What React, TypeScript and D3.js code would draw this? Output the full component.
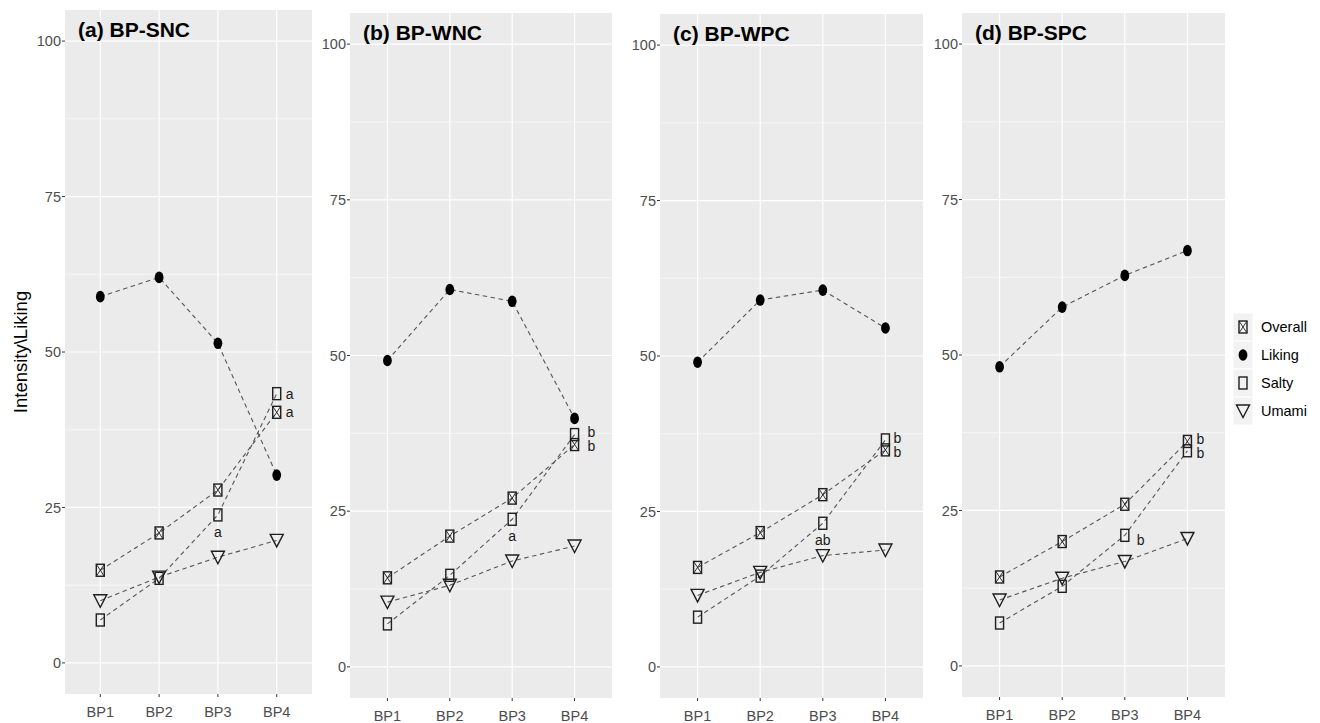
import * as d3 from 'd3';
import React from 'react';

// categories and series, one row per panel
const bpLevels = ['BP1', 'BP2', 'BP3', 'BP4'];
const panelTitles = ['(a) BP-SNC', '(b) BP-WNC', '(c) BP-WPC', '(d) BP-SPC'];
const seriesNames = ['Overall', 'Liking', 'Salty', 'Umami'];
const yTicks = [0, 25, 50, 75, 100];
const yMinor = [12.5, 37.5, 62.5, 87.5];

const overallVals = [
  [14.9, 20.9, 27.8, 40.3],
  [14.3, 21.0, 27.1, 35.7],
  [16.0, 21.6, 27.7, 34.9],
  [14.3, 20.0, 26.0, 36.1],
];
const likingVals = [
  [58.9, 62.0, 51.4, 30.2],
  [49.2, 60.6, 58.7, 39.9],
  [49.0, 59.0, 60.6, 54.5],
  [48.1, 57.7, 62.8, 66.8],
];
const saltyVals = [
  [6.9, 13.6, 23.8, 43.3],
  [6.9, 14.7, 23.7, 37.3],
  [8.0, 14.6, 23.1, 36.5],
  [6.9, 12.8, 21.0, 34.6],
];
const umamiVals = [
  [10.0, 13.8, 17.0, 19.7],
  [10.4, 13.1, 17.0, 19.4],
  [11.5, 15.2, 17.9, 18.8],
  [10.6, 14.1, 16.8, 20.5],
];

// significance letters: which point they belong to and where they sit
const letterRows = [
  [
    { series: 'Salty', bp: 'BP4', text: 'a', pos: 'right' },
    { series: 'Overall', bp: 'BP4', text: 'a', pos: 'right' },
    { series: 'Salty', bp: 'BP3', text: 'a', pos: 'below' },
  ],
  [
    { series: 'Salty', bp: 'BP4', text: 'b', pos: 'rightUp' },
    { series: 'Overall', bp: 'BP4', text: 'b', pos: 'rightDown' },
    { series: 'Salty', bp: 'BP3', text: 'a', pos: 'below' },
  ],
  [
    { series: 'Salty', bp: 'BP4', text: 'b', pos: 'rightUp' },
    { series: 'Overall', bp: 'BP4', text: 'b', pos: 'rightDown' },
    { series: 'Salty', bp: 'BP3', text: 'ab', pos: 'below' },
  ],
  [
    { series: 'Overall', bp: 'BP4', text: 'b', pos: 'rightUp' },
    { series: 'Salty', bp: 'BP4', text: 'b', pos: 'rightDown' },
    { series: 'Salty', bp: 'BP3', text: 'b', pos: 'rightLow' },
  ],
];

// panel boxes in page pixels
const panelBoxes = [
  { left: 65, right: 312, top: 10, bottom: 694, gap: 9 },
  { left: 350, right: 612, top: 13, bottom: 698, gap: 13 },
  { left: 660, right: 923, top: 14, bottom: 698, gap: 8 },
  { left: 962, right: 1225, top: 13, bottom: 697, gap: 9 },
];

const FONT = 'Liberation Sans, Arial, sans-serif';
const MARK = '#1f1f1f';
const LINE = '#555555';

function Marker({ kind, x, y }) {
  if (kind === 'Overall') {
    return (
      <g stroke={MARK} strokeWidth={1.4} fill="none">
        <rect x={x - 4} y={y - 6} width={8} height={12} />
        <path d={`M${x - 4},${y - 6}L${x + 4},${y + 6}M${x + 4},${y - 6}L${x - 4},${y + 6}`} strokeWidth={0.9} />
      </g>
    );
  }
  if (kind === 'Liking') {
    return <ellipse cx={x} cy={y} rx={4.4} ry={5.8} fill="#000" />;
  }
  if (kind === 'Salty') {
    return <rect x={x - 4} y={y - 6} width={8} height={12} stroke={MARK} strokeWidth={1.4} fill="none" />;
  }
  return (
    <path
      d={`M${x - 6.5},${y - 6}L${x + 6.5},${y - 6}L${x},${y + 6.5}Z`}
      stroke={MARK}
      strokeWidth={1.4}
      fill="none"
    />
  );
}

const letterShift = { right: [0, 0], rightUp: [0, -2], rightDown: [0, 2], rightLow: [3, 5] };

function Panel({ index }) {
  const box = panelBoxes[index];
  const x = d3.scalePoint().domain(bpLevels).range([box.left, box.right]).padding(0.6);
  const y = d3.scaleLinear().domain([-5, 105]).range([box.bottom, box.top]);
  const valuesBySeries = {
    Overall: overallVals[index],
    Liking: likingVals[index],
    Salty: saltyVals[index],
    Umami: umamiVals[index],
  };
  const line = d3
    .line()
    .x((d) => x(d[0]))
    .y((d) => y(d[1]));

  return (
    <g>
      <rect x={box.left} y={box.top} width={box.right - box.left} height={box.bottom - box.top} fill="#EBEBEB" />
      {yMinor.map((t) => (
        <line key={'m' + t} x1={box.left} x2={box.right} y1={y(t)} y2={y(t)} stroke="#fff" strokeWidth={0.6} />
      ))}
      {yTicks.map((t) => (
        <line key={'g' + t} x1={box.left} x2={box.right} y1={y(t)} y2={y(t)} stroke="#fff" strokeWidth={1.2} />
      ))}
      {bpLevels.map((b) => (
        <line key={'v' + b} x1={x(b)} x2={x(b)} y1={box.top} y2={box.bottom} stroke="#fff" strokeWidth={1.2} />
      ))}

      {/* axes */}
      {yTicks.map((t) => (
        <g key={'yt' + t}>
          <line x1={box.left - 3} x2={box.left} y1={y(t)} y2={y(t)} stroke="#333" strokeWidth={1} />
          <text x={box.left - 4} y={y(t)} dy="0.35em" textAnchor="end" fontSize={14.5} fill="#4D4D4D" fontFamily={FONT}>
            {t}
          </text>
        </g>
      ))}
      {bpLevels.map((b) => (
        <g key={'xt' + b}>
          <line x1={x(b)} x2={x(b)} y1={box.bottom} y2={box.bottom + 3} stroke="#333" strokeWidth={1} />
          <text x={x(b)} y={box.bottom + 23} textAnchor="middle" fontSize={14.5} fill="#4D4D4D" fontFamily={FONT}>
            {b}
          </text>
        </g>
      ))}

      {/* dashed series lines */}
      {seriesNames.map((s) => (
        <path
          key={'l' + s}
          d={line(bpLevels.map((b, i) => [b, valuesBySeries[s][i]]))}
          fill="none"
          stroke={LINE}
          strokeWidth={1.1}
          strokeDasharray="4.5,3.5"
        />
      ))}
      {seriesNames.map((s) =>
        bpLevels.map((b, i) => <Marker key={s + b} kind={s} x={x(b)} y={y(valuesBySeries[s][i])} />)
      )}

      {letterRows[index].map((l, k) => {
        const i = bpLevels.indexOf(l.bp);
        const px = x(l.bp);
        const py = y(valuesBySeries[l.series][i]);
        if (l.pos === 'below') {
          return (
            <text key={'t' + k} x={px} y={py + 17} dy="0.35em" textAnchor="middle" fontSize={14} fill="#1a1a1a" fontFamily={FONT}>
              {l.text}
            </text>
          );
        }
        const [sx, sy] = letterShift[l.pos];
        return (
          <text key={'t' + k} x={px + box.gap + sx} y={py + sy} dy="0.35em" fontSize={14} fill="#1a1a1a" fontFamily={FONT}>
            {l.text}
          </text>
        );
      })}

      <text x={box.left + 13} y={box.top + 27} fontSize={21} fontWeight="bold" fill="#000" fontFamily={FONT}>
        {panelTitles[index]}
      </text>
    </g>
  );
}

function Legend() {
  const top = 313;
  const keyH = 28;
  const keyW = 20;
  const left = 1233;
  return (
    <g>
      {seriesNames.map((s, i) => (
        <g key={s}>
          <rect x={left} y={top + i * keyH} width={keyW} height={keyH} fill="#F2F2F2" stroke="#fff" strokeWidth={1} />
          <Marker kind={s} x={left + keyW / 2} y={top + i * keyH + keyH / 2} />
          <text x={left + 28} y={top + i * keyH + keyH / 2} dy="0.35em" fontSize={14.5} fill="#000" fontFamily={FONT}>
            {s}
          </text>
        </g>
      ))}
    </g>
  );
}

export default function App() {
  return (
    <svg width={1320} height={723} style={{ position: 'absolute', left: 0, top: 0, background: '#fff' }}>
      <rect width={1320} height={723} fill="#fff" />
      <text transform="translate(27,352) rotate(-90)" textAnchor="middle" fontSize={18.5} fill="#000" fontFamily={FONT}>
        Intensity\Liking
      </text>
      {panelTitles.map((t, i) => (
        <Panel key={t} index={i} />
      ))}
      <Legend />
    </svg>
  );
}
